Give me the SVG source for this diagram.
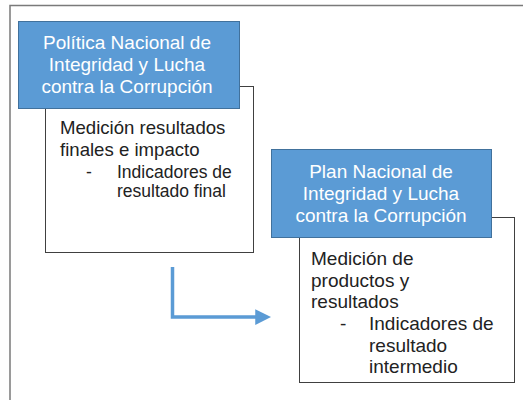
<svg xmlns="http://www.w3.org/2000/svg" width="523" height="400" viewBox="0 0 523 400">
<style>
.frame{fill:none;stroke:#7a7a7a;stroke-width:1.5}
.body{fill:#fff;stroke:#404040;stroke-width:1}
.title{fill:#5b9bd5;stroke:#41719c;stroke-width:1}
.tt{font-family:"Liberation Sans",Arial,sans-serif;font-size:19px;fill:#fff;text-anchor:middle}
.bt{font-family:"Liberation Sans",Arial,sans-serif;font-size:19px;fill:#222}
.s1{font-size:18.6px}
.s2{font-size:17.5px}
.conn{fill:none;stroke:#5b9bd5;stroke-width:3.5}
</style>
<defs>
<marker id="ah" markerWidth="4.5" markerHeight="4.5" refX="0.5" refY="2.25" orient="auto" markerUnits="strokeWidth">
<path d="M0,0 L4.5,2.25 L0,4.5 Z" fill="#5b9bd5"/>
</marker>
</defs>
<rect class="frame" x="10" y="5.5" width="530" height="420"/>
<g id="node1">
<rect class="body" x="45.5" y="86.5" width="208" height="166"/>
<rect class="title" x="18.5" y="21.5" width="221" height="87"/>
<text class="tt" x="127" y="49">Política Nacional de</text>
<text class="tt" x="127" y="71">Integridad y Lucha</text>
<text class="tt" x="127" y="93">contra la Corrupción</text>
<text class="bt s1" x="60" y="134">Medición resultados</text>
<text class="bt s1" x="60" y="156">finales e impacto</text>
<text class="bt s2" x="86" y="178">-</text>
<text class="bt s2" x="117" y="178">Indicadores de</text>
<text class="bt s2" x="117" y="197">resultado final</text>
</g>
<g id="node2">
<rect class="body" x="299.5" y="217.5" width="215" height="165"/>
<rect class="title" x="271.5" y="149.5" width="220" height="88"/>
<text class="tt" x="381" y="178">Plan Nacional de</text>
<text class="tt" x="381" y="200">Integridad y Lucha</text>
<text class="tt" x="381" y="222">contra la Corrupción</text>
<text class="bt" x="311" y="265">Medición de</text>
<text class="bt" x="311" y="287">productos y</text>
<text class="bt" x="311" y="308">resultados</text>
<text class="bt" x="340" y="330">-</text>
<text class="bt" x="369" y="330">Indicadores de</text>
<text class="bt" x="369" y="352">resultado</text>
<text class="bt" x="369" y="373">intermedio</text>
</g>
<g id="connectors">
<path class="conn" d="M172.5,267 V317 H257" marker-end="url(#ah)"/>
</g>
</svg>
